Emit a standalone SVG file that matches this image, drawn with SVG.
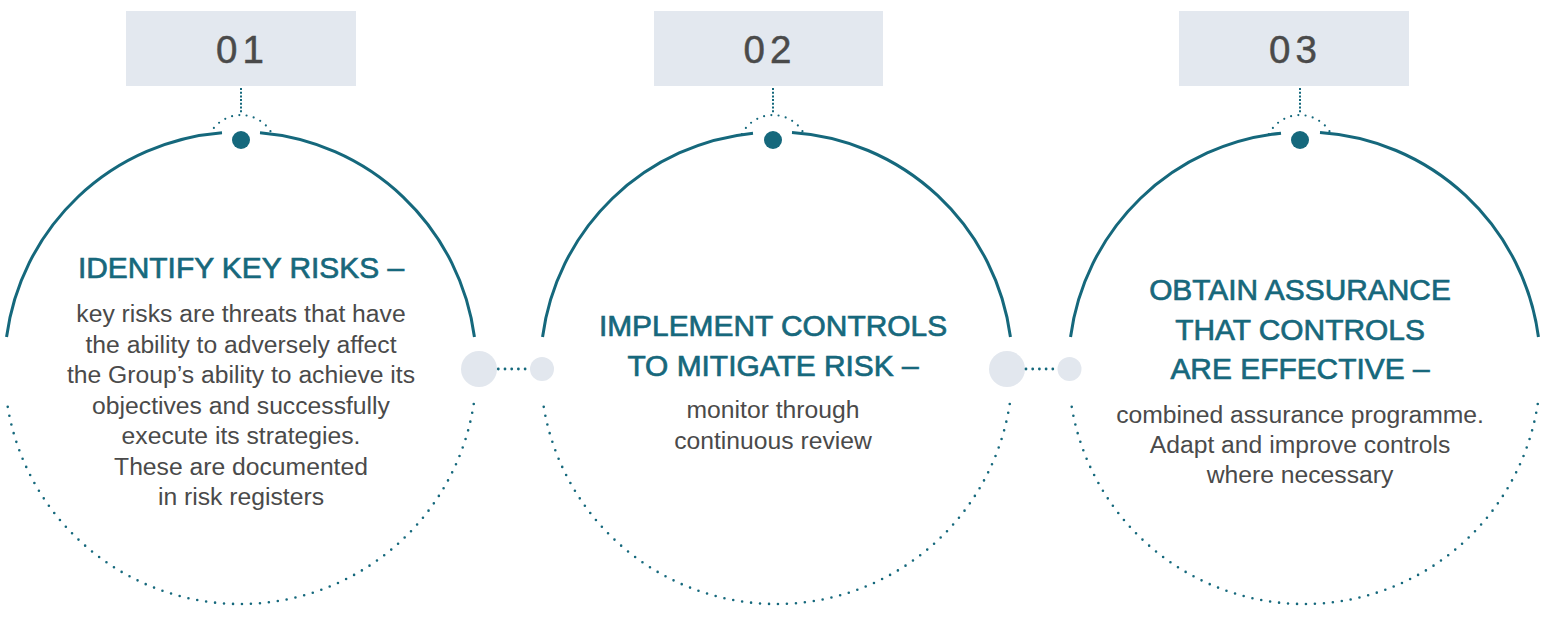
<svg xmlns="http://www.w3.org/2000/svg" width="1551" height="617" viewBox="0 0 1551 617">
<style>
.box{fill:#e3e8ef}
.num{font-family:"Liberation Sans",Arial,sans-serif;font-size:38.5px;fill:#4a4a4a;stroke:#4a4a4a;stroke-width:0.5;letter-spacing:5px}
.arc{fill:none;stroke:#15687c;stroke-width:3}
.dots{fill:none;stroke:#15687c;stroke-width:2.6;stroke-linecap:round;stroke-dasharray:0 9}
.tdots{fill:none;stroke:#15687c;stroke-width:2.2;stroke-linecap:round;stroke-dasharray:0 7.3}
.vdots{fill:none;stroke:#15687c;stroke-width:2;stroke-dasharray:2 1.7}
.hdots{fill:none;stroke:#15687c;stroke-width:2.8;stroke-linecap:round;stroke-dasharray:0 6.7}
.dot{fill:#15687c}
.gc{fill:#e2e7ee}
.title{font-family:"Liberation Sans",Arial,sans-serif;font-size:29.9px;fill:#17687c;stroke:#17687c;stroke-width:0.7;text-anchor:middle}
.body{font-family:"Liberation Sans",Arial,sans-serif;font-size:24.7px;fill:#4a4a4a;text-anchor:middle}
</style>

<g id="node-01">
  <rect class="box" x="126" y="11" width="230" height="75"/>
  <text class="num" x="216" y="63">01</text>
  <path class="vdots" d="M241 88 V114"/>
  <path class="tdots" d="M209.9 134 A35 35 0 0 1 272.1 134"/>
  <circle class="dot" cx="241" cy="140" r="9"/>
  <path class="arc" d="M6.55 337 A236 236 0 0 1 222 132.73 M260 132.81 A236 236 0 0 1 474.45 337"/>
  <path class="dots" d="M473.74 404 A236 236 0 0 1 7.26 404"/>
  <text class="title" x="241" y="278">IDENTIFY KEY RISKS –</text>
  <text class="body" x="241" y="322">key risks are threats that have</text>
  <text class="body" x="241" y="353">the ability to adversely affect</text>
  <text class="body" x="241" y="383">the Group’s ability to achieve its</text>
  <text class="body" x="241" y="414">objectives and successfully</text>
  <text class="body" x="241" y="444">execute its strategies.</text>
  <text class="body" x="241" y="475">These are documented</text>
  <text class="body" x="241" y="505">in risk registers</text>
</g>

<g id="node-02">
  <rect class="box" x="654" y="11" width="229" height="75"/>
  <text class="num" x="743.5" y="63">02</text>
  <path class="vdots" d="M773 88 V114"/>
  <path class="tdots" d="M741.9 134 A35 35 0 0 1 804.1 134"/>
  <circle class="dot" cx="773" cy="140" r="9"/>
  <path class="arc" d="M542.55 337 A236 236 0 0 1 753 133.17 M792 132.51 A236 236 0 0 1 1010.45 337"/>
  <path class="dots" d="M1009.74 404 A236 236 0 0 1 543.26 404"/>
  <text class="title" x="773" y="336">IMPLEMENT CONTROLS</text>
  <text class="title" x="773" y="376">TO MITIGATE RISK –</text>
  <text class="body" x="773" y="418">monitor through</text>
  <text class="body" x="773" y="449">continuous review</text>
</g>

<g id="node-03">
  <rect class="box" x="1179" y="11" width="230" height="75"/>
  <text class="num" x="1269" y="63">03</text>
  <path class="vdots" d="M1300 88 V114"/>
  <path class="tdots" d="M1268.9 134 A35 35 0 0 1 1331.1 134"/>
  <circle class="dot" cx="1300" cy="140" r="9"/>
  <path class="arc" d="M1070.55 337 A236 236 0 0 1 1281 133.17 M1320 132.51 A236 236 0 0 1 1538.45 337"/>
  <path class="dots" d="M1537.74 404 A236 236 0 0 1 1071.26 404"/>
  <text class="title" x="1300" y="300">OBTAIN ASSURANCE</text>
  <text class="title" x="1300" y="340">THAT CONTROLS</text>
  <text class="title" x="1300" y="379">ARE EFFECTIVE –</text>
  <text class="body" x="1300" y="423">combined assurance programme.</text>
  <text class="body" x="1300" y="453">Adapt and improve controls</text>
  <text class="body" x="1300" y="483">where necessary</text>
</g>

<g id="connectors">
  <circle class="gc" cx="479" cy="369" r="18"/>
  <circle class="gc" cx="542" cy="369" r="12"/>
  <path class="hdots" d="M498.3 369 H526"/>
  <circle class="gc" cx="1007" cy="369" r="18"/>
  <circle class="gc" cx="1069.5" cy="369" r="12"/>
  <path class="hdots" d="M1026 369 H1054"/>
</g>
</svg>
